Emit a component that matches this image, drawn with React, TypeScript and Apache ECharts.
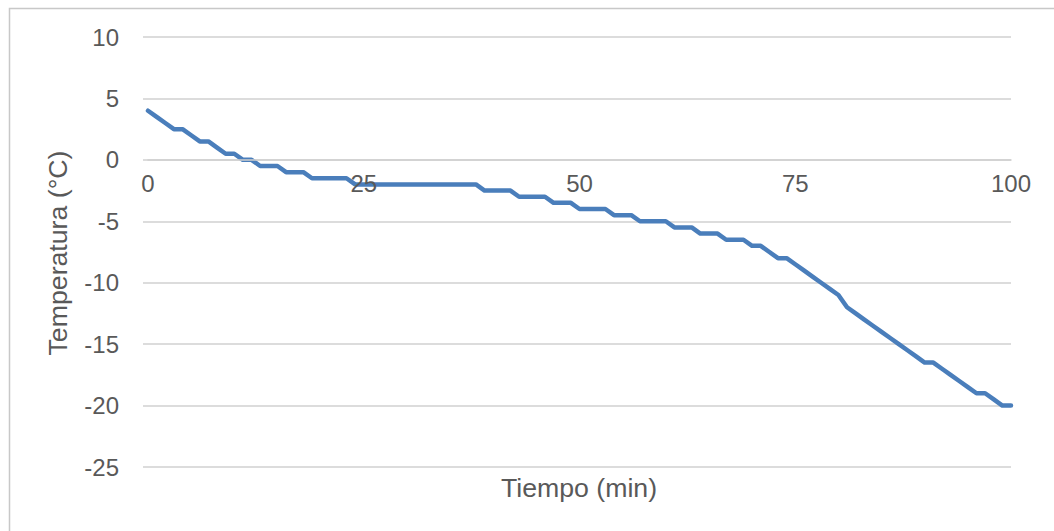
import React, { useEffect, useRef } from "react";
import * as echarts from "echarts";

const minutes: number[] = [
  0, 1, 2, 3, 4, 5, 6, 7, 8, 9,
  10, 11, 12, 13, 14, 15, 16, 17, 18, 19,
  20, 21, 22, 23, 24, 25, 26, 27, 28, 29,
  30, 31, 32, 33, 34, 35, 36, 37, 38, 39,
  40, 41, 42, 43, 44, 45, 46, 47, 48, 49,
  50, 51, 52, 53, 54, 55, 56, 57, 58, 59,
  60, 61, 62, 63, 64, 65, 66, 67, 68, 69,
  70, 71, 72, 73, 74, 75, 76, 77, 78, 79,
  80, 81, 82, 83, 84, 85, 86, 87, 88, 89,
  90, 91, 92, 93, 94, 95, 96, 97, 98, 99, 100,
];

const temperatures: number[] = [
  4, 3.5, 3, 2.5, 2.5, 2, 1.5, 1.5, 1, 0.5,
  0.5, 0, 0, -0.5, -0.5, -0.5, -1, -1, -1, -1.5,
  -1.5, -1.5, -1.5, -1.5, -2, -2, -2, -2, -2, -2,
  -2, -2, -2, -2, -2, -2, -2, -2, -2, -2.5,
  -2.5, -2.5, -2.5, -3, -3, -3, -3, -3.5, -3.5, -3.5,
  -4, -4, -4, -4, -4.5, -4.5, -4.5, -5, -5, -5,
  -5, -5.5, -5.5, -5.5, -6, -6, -6, -6.5, -6.5, -6.5,
  -7, -7, -7.5, -8, -8, -8.5, -9, -9.5, -10, -10.5,
  -11, -12, -12.5, -13, -13.5, -14, -14.5, -15, -15.5, -16,
  -16.5, -16.5, -17, -17.5, -18, -18.5, -19, -19, -19.5, -20, -20,
];

const xTitle = "Tiempo (min)";
const yTitle = "Temperatura (°C)";

const FONT = "'Liberation Sans', Arial, sans-serif";
const TEXT = "#595959";
const GRID = "#d0d0d0";

const Y_MIN = -25;
const Y_MAX = 10;
const GRID_TOP = 37;
const GRID_BOTTOM = 64;
const CHART_H = 531;

export default function App() {
  const ref = useRef<HTMLDivElement>(null);

  useEffect(() => {
    document.body.style.margin = "0";
    if (!ref.current) return;
    const chart = echarts.init(ref.current, undefined, { renderer: "svg" });
    const data = minutes.map((m, i) => [m, temperatures[i]]);
    const plotH = CHART_H - GRID_TOP - GRID_BOTTOM;
    // distance from bottom of plot to the y = 0 line
    const zeroOffset = (plotH * (0 - Y_MIN)) / (Y_MAX - Y_MIN);
    chart.setOption({
      animation: false,
      backgroundColor: "#ffffff",
      grid: { left: 148, right: 43, top: GRID_TOP, bottom: GRID_BOTTOM, containLabel: false },
      xAxis: {
        type: "value",
        min: 0,
        max: 100,
        interval: 25,
        z: 5,
        position: "bottom",
        offset: -zeroOffset,
        axisLine: { show: true, onZero: false, lineStyle: { color: GRID, width: 1.5 } },
        axisTick: { show: false },
        splitLine: { show: false },
        axisLabel: {
          color: TEXT,
          fontSize: 24,
          fontFamily: FONT,
          margin: 12,
        },
      },
      yAxis: {
        type: "value",
        min: Y_MIN,
        max: Y_MAX,
        interval: 5,
        axisLine: { show: false },
        axisTick: { show: true, length: 5, lineStyle: { color: GRID, width: 1.5 } },
        splitLine: { show: true, lineStyle: { color: GRID, width: 1.5 } },
        axisLabel: {
          color: TEXT,
          fontSize: 24,
          fontFamily: FONT,
          margin: 29,
        },
      },
      graphic: [
        {
          type: "rect",
          silent: true,
          shape: { x: 9.5, y: 8.5, width: 1200, height: 700 },
          style: { fill: "none", stroke: "#c8c8c8", lineWidth: 1.5 },
        },
        {
          type: "text",
          x: 579,
          y: 488,
          style: {
            text: xTitle,
            fill: TEXT,
            fontSize: 26.7,
            fontFamily: FONT,
            align: "center",
            verticalAlign: "middle",
          },
        },
        {
          type: "text",
          x: 58,
          y: 253,
          rotation: Math.PI / 2,
          style: {
            text: yTitle,
            fill: TEXT,
            fontSize: 26.7,
            fontFamily: FONT,
            align: "center",
            verticalAlign: "middle",
          },
        },
      ],
      series: [
        {
          type: "line",
          data,
          showSymbol: false,
          z: 2,
          lineStyle: { color: "#4a7ebb", width: 4.5, cap: "round", join: "round" },
        },
      ],
    });
    return () => chart.dispose();
  }, []);

  return <div ref={ref} style={{ width: 1054, height: 531 }} />;
}
